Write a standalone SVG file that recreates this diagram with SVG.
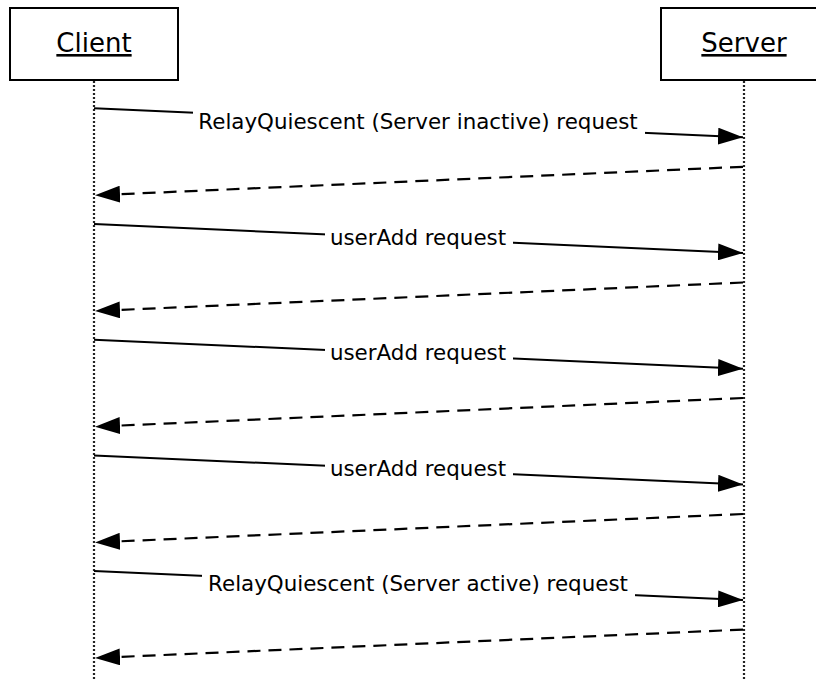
<svg xmlns="http://www.w3.org/2000/svg" width="816" height="681" viewBox="0 0 816 681">
<style>
.box{fill:#fff;stroke:#000;stroke-width:2}
.title{font-family:"DejaVu Sans",Verdana,sans-serif;font-size:26px;fill:#000;text-anchor:middle;text-decoration:underline}
.life{stroke:#222;stroke-width:2.2;stroke-dasharray:2,2;fill:none}
.msg{stroke:#000;stroke-width:2;fill:none}
.ret{stroke:#000;stroke-width:2.2;fill:none;stroke-dasharray:13,8}
.lbl{font-family:"DejaVu Sans",Verdana,sans-serif;font-size:21.4px;fill:#000;text-anchor:middle}
.bg{fill:#fff}
</style>
<defs>
<marker id="ah" markerWidth="25" markerHeight="17" refX="25" refY="8.5" orient="auto" markerUnits="userSpaceOnUse">
<path d="M0,0 L25,8.5 L0,17 Z" fill="#000"/>
</marker>
</defs>
<g id="client">
<rect class="box" x="10" y="8" width="168" height="72"/>
<text class="title" x="94" y="52">Client</text>
</g>
<g id="server">
<rect class="box" x="661" y="8" width="170" height="72"/>
<text class="title" x="744" y="52">Server</text>
</g>
<g id="lifelines">
<line class="life" x1="94" y1="81" x2="94" y2="681"/>
<line class="life" x1="744" y1="81" x2="744" y2="681"/>
</g>
<g id="connectors">
<line class="msg" x1="94" y1="108.3" x2="743" y2="137.3" marker-end="url(#ah)"/>
<rect class="bg" x="193" y="111" width="452" height="24"/>
<text class="lbl" x="418" y="128.5">RelayQuiescent (Server inactive) request</text>
<line class="ret" x1="743" y1="166.8" x2="95" y2="195.3" marker-end="url(#ah)"/>

<line class="msg" x1="94" y1="224" x2="743" y2="253" marker-end="url(#ah)"/>
<rect class="bg" x="325" y="227" width="188" height="24"/>
<text class="lbl" x="418" y="244.5">userAdd request</text>
<line class="ret" x1="743" y1="282.5" x2="95" y2="311" marker-end="url(#ah)"/>

<line class="msg" x1="94" y1="339.7" x2="743" y2="368.7" marker-end="url(#ah)"/>
<rect class="bg" x="325" y="342.5" width="188" height="24"/>
<text class="lbl" x="418" y="360">userAdd request</text>
<line class="ret" x1="743" y1="398" x2="95" y2="426.7" marker-end="url(#ah)"/>

<line class="msg" x1="94" y1="455.4" x2="743" y2="484.4" marker-end="url(#ah)"/>
<rect class="bg" x="325" y="458" width="188" height="24"/>
<text class="lbl" x="418" y="475.5">userAdd request</text>
<line class="ret" x1="743" y1="514" x2="95" y2="542.4" marker-end="url(#ah)"/>

<line class="msg" x1="94" y1="571.1" x2="743" y2="600" marker-end="url(#ah)"/>
<rect class="bg" x="202" y="573.5" width="433" height="24"/>
<text class="lbl" x="418" y="591">RelayQuiescent (Server active) request</text>
<line class="ret" x1="743" y1="629.6" x2="95" y2="658" marker-end="url(#ah)"/>
</g>
</svg>
